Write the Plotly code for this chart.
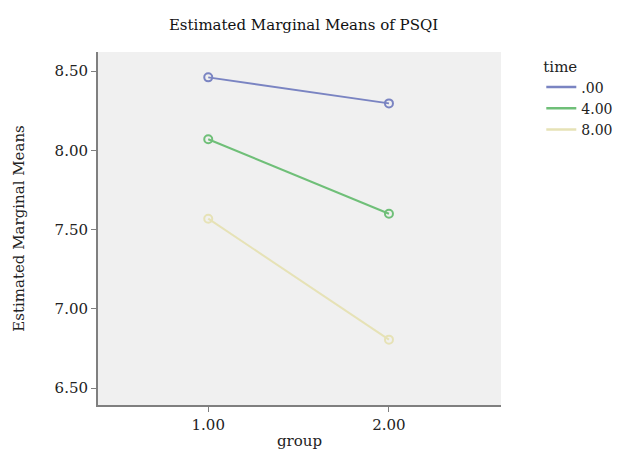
import plotly.graph_objects as go

groups = [1.0, 2.0]
series_names = [".00", "4.00", "8.00"]
time_00 = [8.46, 8.296]
time_40 = [8.07, 7.60]
time_80 = [7.569, 6.806]
colors = ["#7A84C2", "#6FBF78", "#E6E2B6"]
y_ticks = [6.5, 7.0, 7.5, 8.0, 8.5]
y_tick_labels = ["6.50", "7.00", "7.50", "8.00", "8.50"]
x_ticks = [1.0, 2.0]
x_tick_labels = ["1.00", "2.00"]

FONT = "DejaVu Serif"

fig = go.Figure()
for name, vals, col in zip(series_names, [time_00, time_40, time_80], colors):
    fig.add_trace(go.Scatter(
        x=groups, y=vals, name=name, mode="lines+markers", showlegend=False,
        line=dict(color=col, width=2),
        marker=dict(symbol="circle-open", size=8, color=col, line=dict(width=2, color=col)),
    ))
# legend entries (lines only, as in the reference)
for name, col in zip(series_names, colors):
    fig.add_trace(go.Scatter(x=[None], y=[None], name=name, mode="lines",
                             line=dict(color=col, width=2.5), showlegend=True))

fig.update_layout(
    width=622, height=451,
    margin=dict(l=90, r=120, t=44, b=51),
    paper_bgcolor="white",
    plot_bgcolor="#F0F0F0",
    font=dict(family=FONT, size=15, color="#222222"),
    title=dict(text="Estimated Marginal Means of PSQI", xref="paper", x=0.51, xanchor="center",
               y=0.962, yanchor="middle", font=dict(family=FONT, size=15, color="#111111")),
    showlegend=True,
    legend=dict(title=dict(text="time", font=dict(size=15)), x=1.10, xanchor="left", y=1.0, yanchor="top",
                bgcolor="rgba(0,0,0,0)", font=dict(size=14), tracegroupgap=0, itemwidth=30),
    xaxis=dict(range=[0.39, 2.62], tickvals=x_ticks, ticktext=x_tick_labels,
               showgrid=False, zeroline=False, showline=True, linecolor="#7F7F7F", linewidth=2,
               ticks="outside", ticklen=5, tickcolor="#7F7F7F", mirror=False,
               title=dict(text="group", font=dict(size=15), standoff=2)),
    yaxis=dict(range=[6.394, 8.62], tickvals=y_ticks, ticktext=y_tick_labels, automargin=False,
               showgrid=False, zeroline=False, showline=True, linecolor="#7F7F7F", linewidth=2,
               ticks="outside", ticklen=5, tickcolor="#7F7F7F",
               title=dict(text="Estimated Marginal Means", font=dict(size=15), standoff=26)),
)

fig.write_html("out.html")
